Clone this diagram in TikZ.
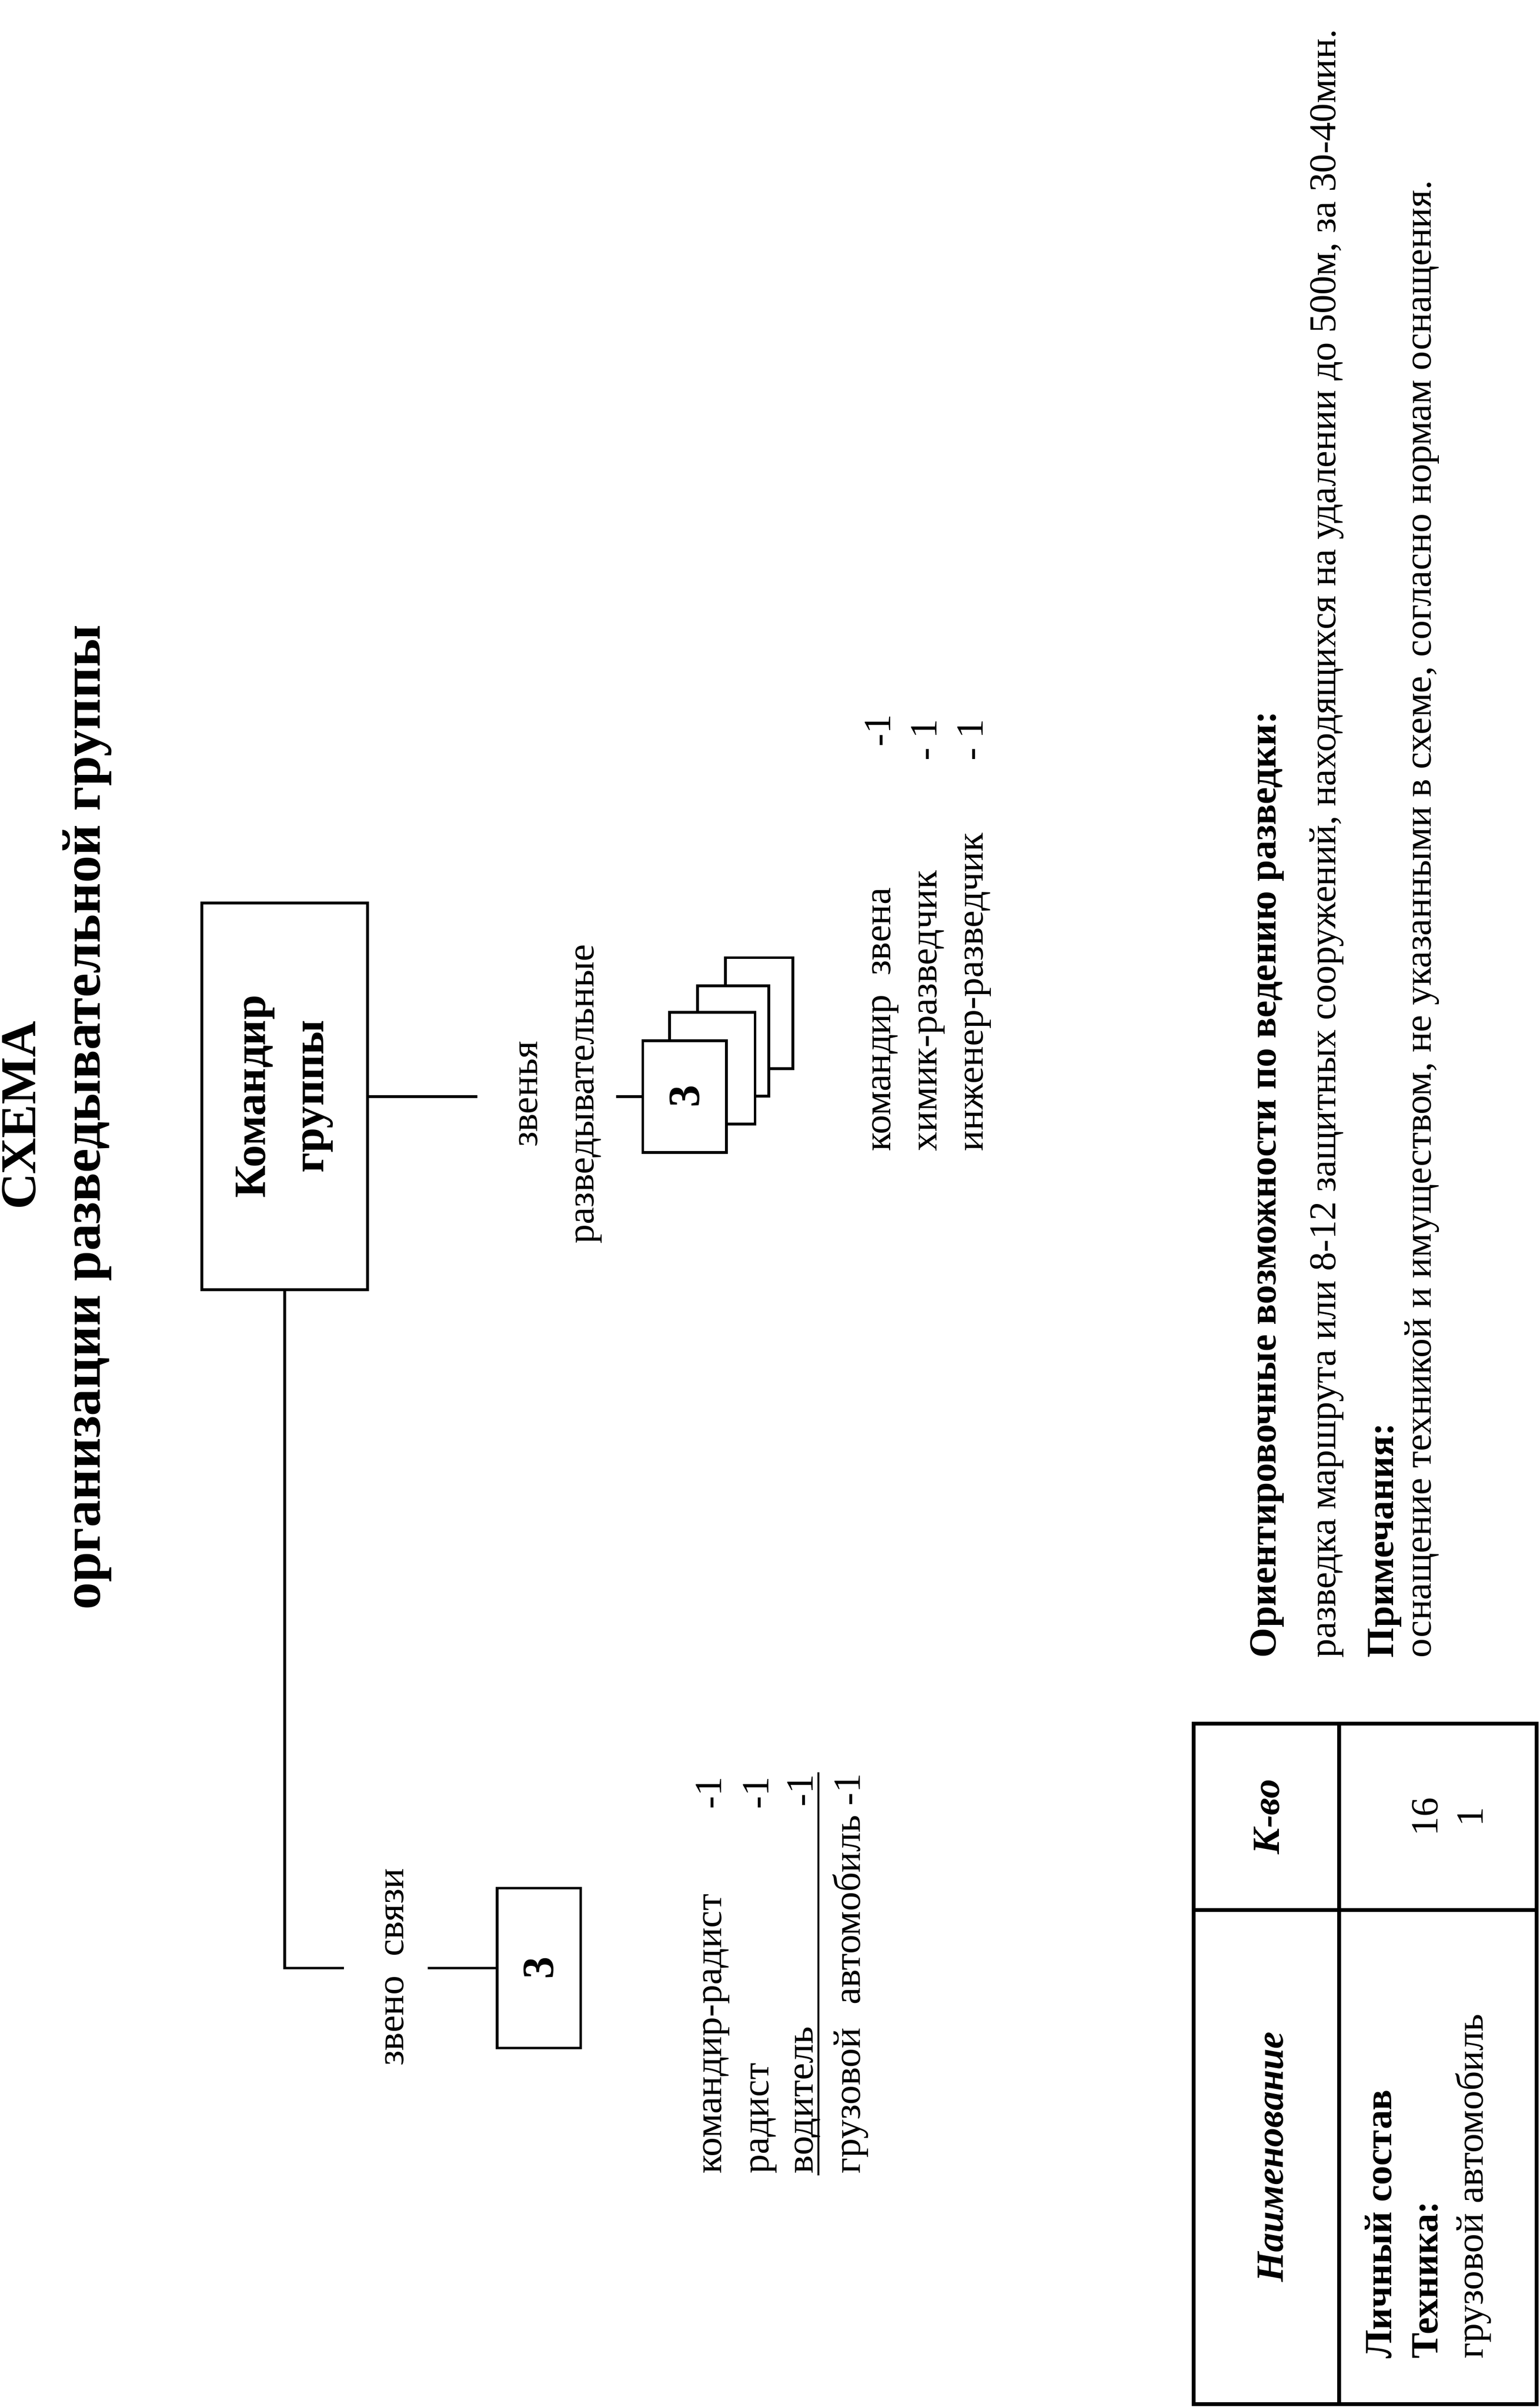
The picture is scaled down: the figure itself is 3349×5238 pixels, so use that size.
\documentclass[tikz,border=0pt]{standalone}
\usepackage{fontspec}
\setmainfont{Liberation Serif}
\usepackage{tikz}

\begin{document}
\begin{tikzpicture}[x=0.165pt,y=0.165pt,yscale=-1,xscale=1,
  txt/.style={rotate=90,inner sep=0pt,font=\fontsize{13.8}{16}\selectfont},
  txtb/.style={rotate=90,inner sep=0pt,font=\fontsize{13.8}{16}\selectfont\bfseries},
  head/.style={rotate=90,inner sep=0pt,font=\fontsize{18}{22}\selectfont\bfseries},
  box/.style={draw,line width=1pt,rotate=90,fill=white,inner sep=0pt,font=\fontsize{16}{21}\selectfont\bfseries},
  link/.style={line width=1pt},
  tbl/.style={line width=1.4pt}]
\useasboundingbox (0,0) rectangle (3349,5238);

% Text Node
\draw (77,2426) node [head, anchor=base] (ttl) {СХЕМА};
% Text Node
\draw (217,2430) node [head, anchor=base, font=\fontsize{19.5}{23}\selectfont\bfseries] (subttl) {организации разведывательной группы};

%Shape: Rectangle
\draw (619,2385) node [box, minimum width=138.8pt, minimum height=59.4pt, align=center] (cmd) {Командир\\группы};

%Shape: Rectangle
\draw (1651,2204) node [box, minimum width=39.9pt, minimum height=24.1pt] (zv4) {};
%Shape: Rectangle
\draw (1594.5,2264) node [box, minimum width=39.6pt, minimum height=25.6pt] (zv3) {};
%Shape: Rectangle
\draw (1549,2323.5) node [box, minimum width=40.1pt, minimum height=30.7pt] (zv2) {};
%Shape: Rectangle
\draw (1489,2385) node [box, minimum width=40.1pt, minimum height=30pt] (zv1) {3};

%Shape: Rectangle
\draw (1172,4281) node [box, minimum width=57.4pt, minimum height=30pt] (sv) {3};

%Straight Lines
\coordinate (zrIn) at (1038,2385);
\draw [link] (cmd.south) -- (zrIn);
%Straight Lines
\coordinate (zrOut) at (1340,2385);
\draw [link] (zrOut) -- (zv1.north);
%Straight Lines
\coordinate (svIn) at (748,4281);
\draw [link] (cmd.west) |- (svIn);
%Straight Lines
\coordinate (svOut) at (930,4281);
\draw [link] (svOut) -- (sv.north);

% Text Node
\draw (1169,2380) node [txt, anchor=base] (zrLbl1) {звенья};
% Text Node
\draw (1291,2380) node [txt, anchor=base] (zrLbl2) {разведывательные};
% Text Node
\draw (877,4279) node [txt, anchor=base] (svLbl) {звено\ \ связи};

% Text Node
\draw (1936,2505) node [txt, anchor=base west] (zrRow1) {командир\ \ звена};
\draw (1936,1553) node [txt, anchor=base east] (zrNum1) {-1};
% Text Node
\draw (2037,2505) node [txt, anchor=base west] (zrRow2) {химик-разведчик};
\draw (2037,1563) node [txt, anchor=base east] (zrNum2) {- 1};
% Text Node
\draw (2138,2505) node [txt, anchor=base west] (zrRow3) {инженер-разведчик};
\draw (2138,1563) node [txt, anchor=base east] (zrNum3) {- 1};

% Text Node
\draw (1569,4729) node [txt, anchor=base west] (svRow1) {командир-радист};
\draw (1569,3864) node [txt, anchor=base east] (svNum1) {-1};
% Text Node
\draw (1671,4729) node [txt, anchor=base west] (svRow2) {радист};
\draw (1671,3864) node [txt, anchor=base east] (svNum2) {-1};
% Text Node
\draw (1768,4729) node [txt, anchor=base west] (svRow3) {водитель};
\draw (1768,3859) node [txt, anchor=base east] (svNum3) {-1};
%Straight Lines
\draw [line width=0.7pt] (1780,4732) -- (1780,3855);
% Text Node
\draw (1870,4729) node [txt, anchor=base west] (svRow4) {грузовой\hspace{0.6em}автомобиль -1};

% Text Node
\draw (2775,3607) node [txtb, anchor=base west] (capHead) {Ориентировочные возможности по ведению разведки:};
% Text Node
\draw (2904,3607) node [txt, anchor=base west, font=\fontsize{13.6}{16}\selectfont] (capText) {разведка маршрута или 8-12 защитных сооружений, находящихся на удалении до 500м, за 30-40мин.};
% Text Node
\draw (3030,3607) node [txtb, anchor=base west] (noteHead) {Примечания:};
% Text Node
\draw (3112,3607) node [txt, anchor=base west] (noteText) {оснащение техникой и имуществом, не указанными в схеме, согласно нормам оснащения.};

%Shape: Table
\draw [tbl] (2596,3749) rectangle (3342,5230);
\draw [tbl] (2912,3749) -- (2912,5230);
\draw [tbl] (2596,4155) -- (3342,4155);

% Text Node
\draw (2790,4692) node [txtb, anchor=base, font=\fontsize{13.8}{16}\selectfont\bfseries\itshape] (tName) {Наименование};
% Text Node
\draw (2782,3952) node [txtb, anchor=base, font=\fontsize{13.8}{16}\selectfont\bfseries\itshape] (tQty) {К-во};
% Text Node
\draw (3026,5132) node [txtb, anchor=base west] (tPers) {Личный состав};
% Text Node
\draw (3127,5132) node [txtb, anchor=base west] (tTech) {Техника:};
% Text Node
\draw (3225,5132) node [txt, anchor=base west] (tTruck) {грузовой автомобиль};
% Text Node
\draw (3127,3952) node [txt, anchor=base] (tPersN) {16};
% Text Node
\draw (3225,3952) node [txt, anchor=base] (tTruckN) {1};

\end{tikzpicture}
\end{document}
